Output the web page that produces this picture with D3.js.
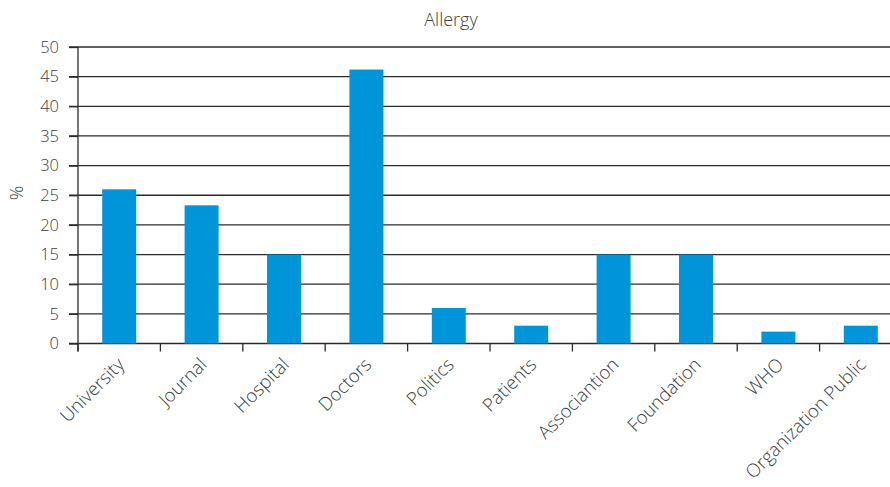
<!DOCTYPE html>
<html>
<head>
<style>
    body { margin: 0; background: #fff; }
    text { font-family: "Open Sans", sans-serif; font-weight: 300; fill: #404040; }
    .grid line { stroke: #2b2b2b; stroke-width: 1.3; }
    .axis path, .axis line { stroke: #2b2b2b; stroke-width: 1.3; }
</style>
</head>
<body>
<svg width="890" height="487"></svg>
<script src="https://cdn.jsdelivr.net/npm/d3@7"></script>
<script>
var categories = ["University", "Journal", "Hospital", "Doctors", "Politics", "Patients",
                  "Associantion", "Foundation", "WHO", "Organization Public"];
var values = [26, 23.3, 15, 46.2, 6, 3, 15, 15, 2, 3];
var yTicks = [0, 5, 10, 15, 20, 25, 30, 35, 40, 45, 50];

var svg = d3.select("svg"),
    margin = {top: 47, left: 78},
    width = 824,
    height = 296.5,
    g = svg.append("g").attr("transform", "translate(" + margin.left + "," + margin.top + ")");

var x = d3.scaleBand().domain(categories).range([0, width]);
var y = d3.scaleLinear().domain([0, 50]).range([height, 0]);
var barW = 34;

// gridlines incl. left tick stubs
g.append("g").attr("class", "grid")
  .selectAll("line").data(yTicks).enter().append("line")
    .attr("x1", -9).attr("x2", width)
    .attr("y1", function(d) { return y(d); })
    .attr("y2", function(d) { return y(d); });

g.selectAll(".bar").data(values).enter().append("rect")
    .attr("class", "bar")
    .attr("fill", "#0095d9")
    .attr("x", function(d, i) { return x(categories[i]) + (x.bandwidth() - barW) / 2; })
    .attr("width", barW)
    .attr("y", function(d) { return y(d); })
    .attr("height", function(d) { return height - y(d); });

// y axis
var yAxis = g.append("g").attr("class", "axis")
    .call(d3.axisLeft(y).tickValues(yTicks).tickSize(9).tickPadding(10));
yAxis.select(".domain").remove();
yAxis.selectAll("text").style("font-size", "16.5px");
g.append("line")
    .attr("x1", 0).attr("x2", 0).attr("y1", 0).attr("y2", height + 8)
    .attr("stroke", "#2b2b2b").attr("stroke-width", 1.3);

// x axis ticks at band boundaries
var xAxis = g.append("g").attr("transform", "translate(0," + height + ")");
xAxis.selectAll("line").data(categories).enter().append("line")
    .attr("x1", function(d) { return x(d); }).attr("x2", function(d) { return x(d); })
    .attr("y1", 0).attr("y2", 8)
    .attr("stroke", "#2b2b2b").attr("stroke-width", 1.3);
xAxis.selectAll("text").data(categories).enter().append("text")
    .attr("transform", function(d) {
        return "translate(" + (x(d) + x.bandwidth() / 2 - 3) + ",13) rotate(-45)";
    })
    .attr("text-anchor", "end")
    .attr("dy", "0.71em")
    .style("font-size", "18.5px")
    .text(function(d) { return d; });

svg.append("text")
    .attr("x", 451).attr("y", 26)
    .attr("text-anchor", "middle")
    .style("font-size", "18px")
    .text("Allergy");

svg.append("text")
    .attr("transform", "translate(23,193) rotate(-90)")
    .attr("text-anchor", "middle")
    .style("font-size", "18px")
    .text("%");
</script>
</body>
</html>
